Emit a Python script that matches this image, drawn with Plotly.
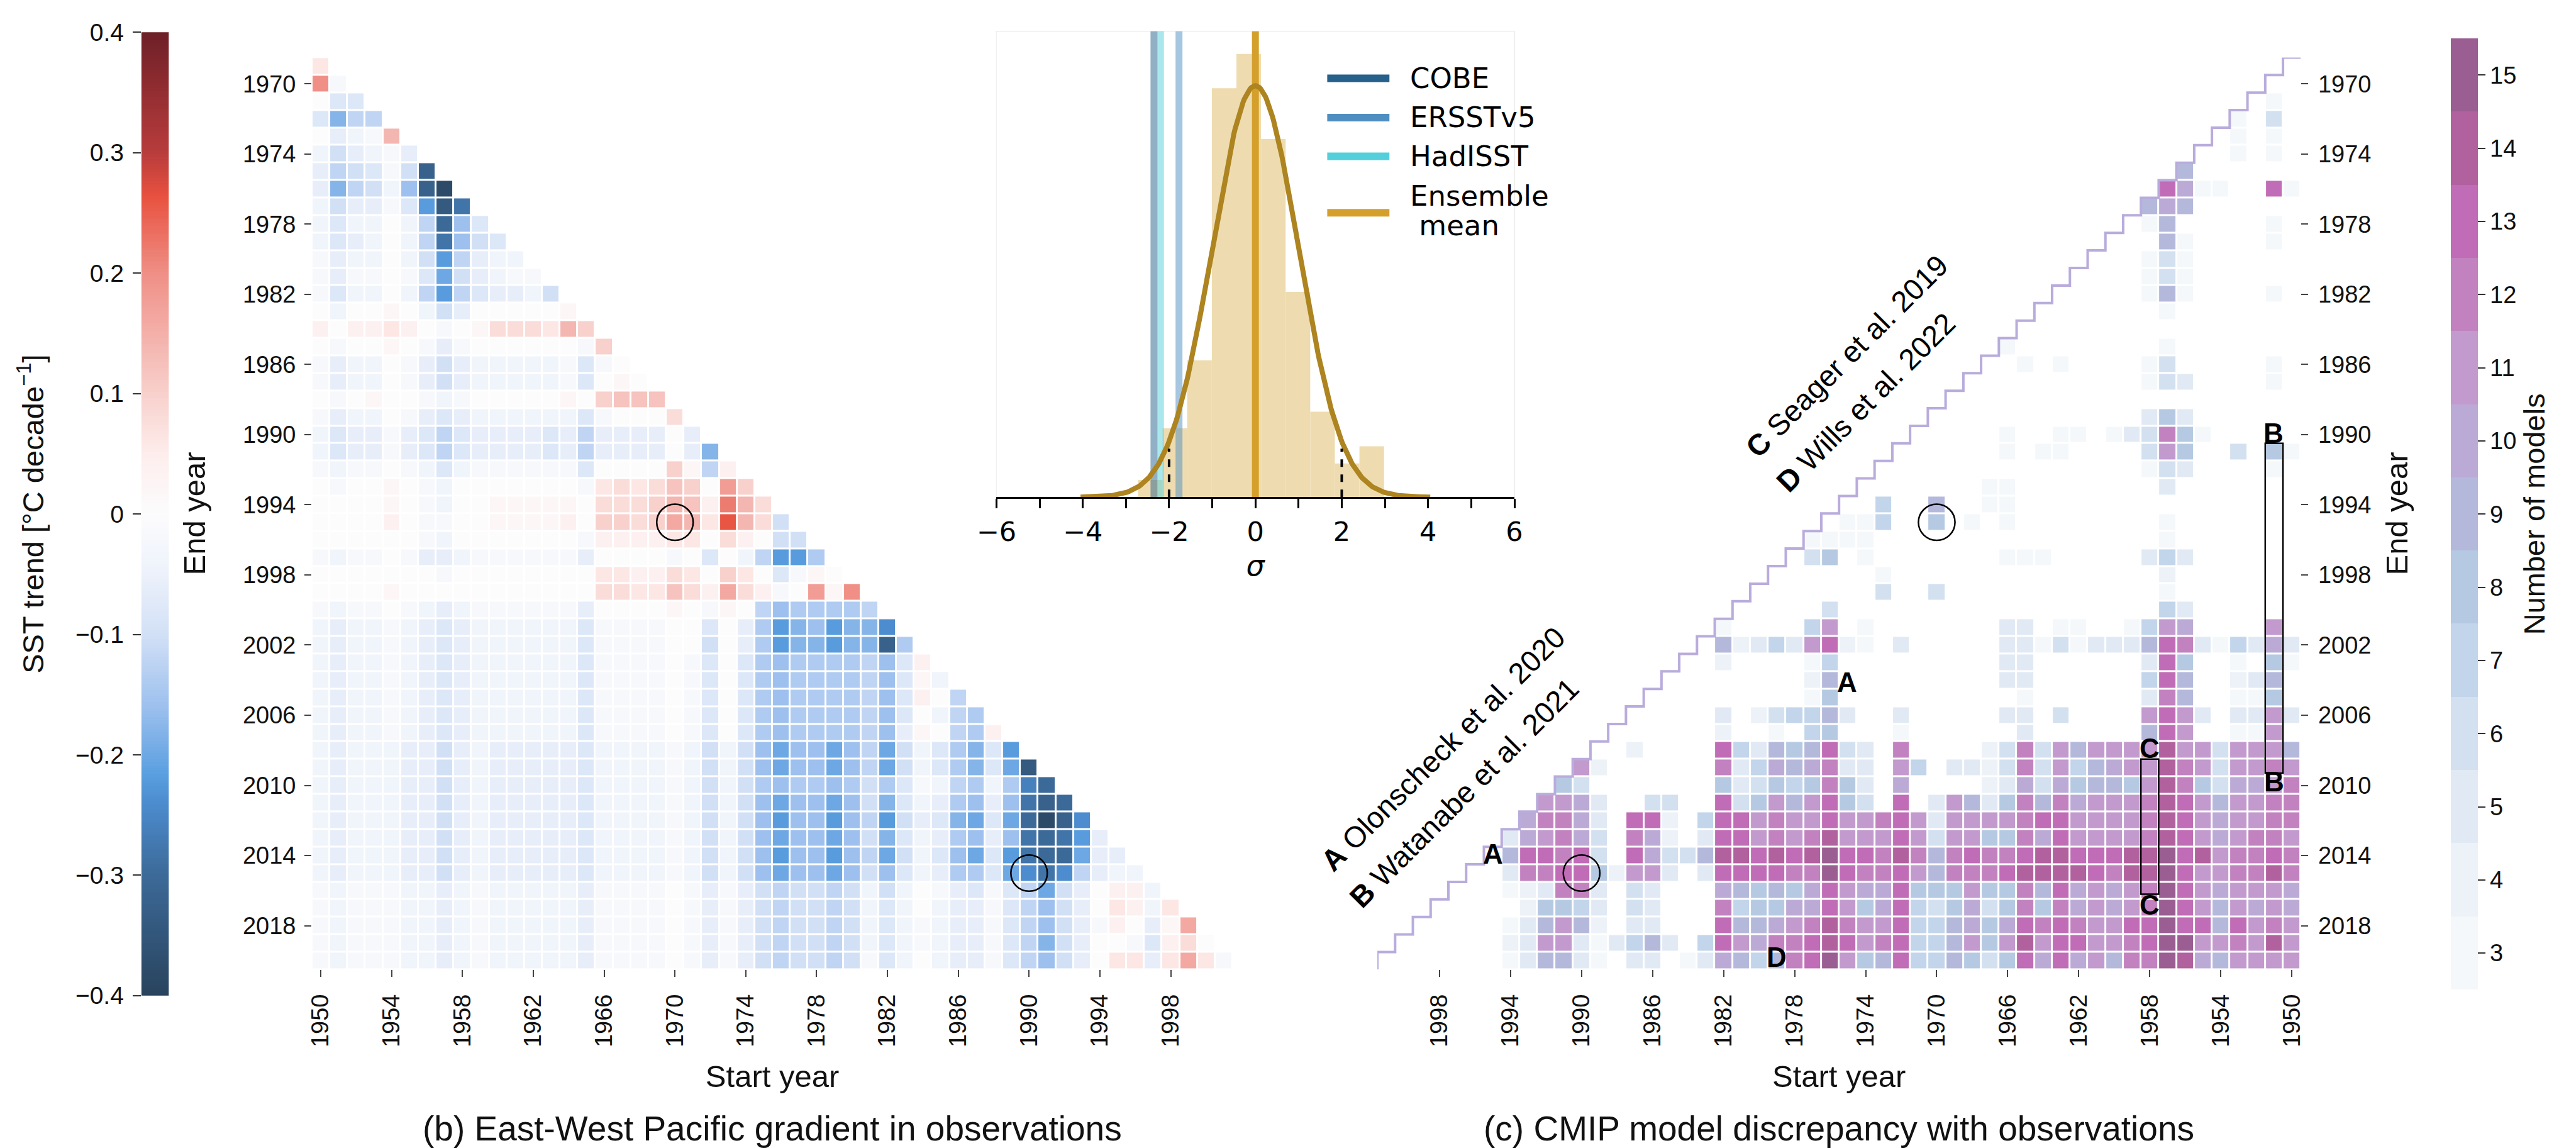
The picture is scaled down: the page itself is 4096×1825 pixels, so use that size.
import numpy as np
import plotly.graph_objects as go

# ---------------------------------------------------------------- axes
START_YEARS = list(range(1950, 2002))
END_YEARS = list(range(1969, 2021))
MIN_SPAN = 19  # shortest trend window (end - start)

# (b) observed East-West Pacific SST-gradient trend [degC / decade].
# One string per end year (1969..2020), one character per start year from 1950.
# '0' = 0, lowercase k-th letter = +0.02*k, uppercase k-th letter = -0.02*k
OBS_TREND_ROWS = [
    "c",
    "jA",
    "0DD",
    "DIFF",
    "0CBAg",
    "BECBAC",
    "CFEDAEP",
    "CIFEBHPS",
    "BECCADKQN",
    "BDBB0BFOHD",
    "BDCB0BFNHED",
    "ACBB0BEKFCBB",
    "ACAA0ADJECBAA",
    "ADBB0BFKFDCCBE",
    "0B00a0BEC00000a",
    "b0bbcb0A0adddcge",
    "0A00a0ACA000000Ae",
    "ACBB0ACECBBBBBADA0",
    "ACBB0ACECBBBBBAD0a0",
    "0A0a00ABA00000a0efff",
    "ACBB0ACDCBBBBBBDA000d",
    "BDCCACDFDCCCCDCFCCCC0C",
    "BDCCACDFDCCCCDCFCCCC0CI",
    "ABAA0ABDBAAAAAAD0000eaFb",
    "0A00a0AB0000000Acdcdfe0ie",
    "0000a0AB00aaaaa0dddegfbkgd",
    "0000b0AA00aaaab0eedehgcmgdE",
    "000000AB0000000Abbbbcc0db0EE",
    "ABAA0ACCBAAAAAAC0000A0D0BFKKG",
    "0000000A00000000ccbbdc0ec0DAa0",
    "0000a00000000000ddccfdbhdbA0iaj",
    "ABAA0ABCBAAAAAAC0000a0Aa0FHGGGGF",
    "BCBBABCDCBBBBBBDAAAA00D0CGKIHKIIL",
    "BCBBABCDCBBBBBBDAAAA00E0CGKIIKIIPG",
    "BCBBABCDCBBBBBBDAAAA0AD0DGHGGGGFHDb",
    "BCBBABCDCBBBBBBDAAAA0AD0DGHGGGGFHDaB",
    "BCBBABCDCBBBBBBDAAAA0AD0DGHGGGGFHDb0F",
    "BCBBABCDCBBBBBBDAAAA0AD0DGHGGGGFHD0BFG",
    "BCBBABCDCBBBBBBDAAAA0AD0DGHGGGGFHCa0FGb",
    "BCBBBCCECBCCCCCDBBBBABEBEHJHHJHFJEBDGIDK",
    "BCBBBCCECBCCCCCDBBBBABEBEHJHHJHFJEBDGIDJQ",
    "BCBBBCCECBCCCCCDBBBBABEBEGHGGHGEGDABFGBGMO",
    "BCBBBCCECBCCCCCDBBBBABEBEHJHHJHEIDBCGHCHNPO",
    "BCBBBCCECBCCCCCDBBBBABEBEHKHHKHFKECDIJDJOSPL",
    "BCBBBCCECBCCCCCDBBBBABEBEHJHHJHEIDBCGHCHNONKC",
    "BCBBBCCECBCCCCCDBBBBABEBEHKHHKHFJEBDHJDKNOOJCC",
    "BCBBBCCECBCCCCCDBBBBABEBEHJHHJHEHDBCGGDJLNLFCBB",
    "ABAAABBCBABBBBBCAAAA0ACACEFEEFEBEB0ACDADFJEC0bbB",
    "ABAAABBCBABBBBBCAAAA0ACACEFEEFEBDB0BCCADFHEC0cbBc",
    "ABAAABBCBABBBBBCAAAA0ACACEFEEFEBDBABCCADFHECAb0Cah",
    "ABAAABBCBABBBBBCAAAA0ACACEFEEFEBDBABCCADFIEC00ADbd0",
    "ABAAABBCBABBBBBCAAAA0ACACEFEEFEADB0BCCADFHEC0ccCchcA",
]

# (c) number of CMIP models whose trend is inconsistent with observations.
# Same layout as above; '.' = none, '3'..'9' as is, 'a'..'f' = 10..15
MODEL_COUNT_ROWS = [
    ".",
    "..",
    ".3.",
    ".6.3",
    ".3.3.",
    ".3.3..",
    "......9",
    "3d..33ad",
    "......9a9",
    ".3.....93.",
    ".3....39...",
    "......363...",
    "......363....",
    ".3....393.....",
    ".......3.......",
    "................",
    ".......3........3",
    ".3.....63....3.3..",
    ".3....563..........",
    "....................",
    "......585............",
    ".....38c653.33..3.....",
    "38.6..8b6....33.3......",
    ".3....563...............",
    ".......5........33.......",
    "................33..9..7..",
    ".......3........3.3.8..733.",
    ".......3................3333",
    "......575.....333.......3.86.",
    ".......4...............3......",
    ".......3............6..6.......",
    "......57..................6.....",
    ".b....ab73..33.55.......3.b7....3",
    "5a5735cd955536355.....5.34db57549.",
    "38.3..8d5......55.........73....4..",
    ".954..9d7......55.........94........",
    ".833..9c5......3..........83.........",
    "5b55.5bdb....6.55.....5..597764.5.....",
    ".b33..bd9......5......3...87.3..4......",
    "9bbb6bbebbbb9b6c64....c.56d98957d....4..",
    "bcbb6bcebba97b6c6455.7b.55ca9a75c......4b",
    "cbaa68ceb8998a6a54....a.58c878658.......68",
    "ccbb9bdecbbbac9c859b5.d.68db9b86d..66..5abb",
    "ccbbabdecbbbbddcbbbb5bdcbbdbbcbdd7.4dd.5acca",
    "bccbabdecbbbbdac88bb6bdbbbecbcbdd5.4ac.6acba5",
    "cdccbedfeedddeedccdc9cecddfededee966ad.6dcdd9.",
    "ceccbbdfeecdeeeedccc9bdccdfccdddd5.5bb48ddcc5..",
    "abbbabdfcbabad9c88b888daabda8989a...56.5cc543...",
    "abab9bdfcbabac8c86a867da8bdaa887c...56.57884.....",
    "bcbd9ddfddbbcdcda8a977dbbcecba99d...55.49b953.....",
    "bebcbbffdcbbddbeb8b977dcbdedccabd7.597535bb54......",
    "bbbb9aefcc9badad868977d98bfdc979a53.55.359953.......",
]

# inset: trend of the observations relative to the model spread
HIST_LEFT_EDGE = -2.72
HIST_BIN_WIDTH = 0.57
HIST_DENSITY = [0.0166, 0.0668, 0.1327, 0.3966, 0.4298, 0.3473, 0.199, 0.0829, 0.0327, 0.0493]
OBS_NAMES = ["COBE", "ERSSTv5", "HadISST"]
OBS_SIGMA = [-2.35, -1.77, -2.20]
ENSEMBLE_MEAN_SIGMA = 0.0
FIT_MEAN, FIT_STD = 0.0, 1.0
SIGNIF_SIGMA = [-2.0, 2.0]
SIGMA_TICKS = [-6, -4, -2, 0, 2, 4, 6]

CIRCLED_CELLS = [(1970, 1995), (1990, 2015)]  # (start, end)

# ---------------------------------------------------------------- styling
SANS = "Liberation Sans, Arial, Helvetica, sans-serif"
MPL = "DejaVu Sans, sans-serif"
W, H = 4096, 1825

TREND_SCALE = [
    [0.0, "#29435d"], [0.125, "#3c6a98"], [0.2, "#4c8ccf"], [0.23, "#5a9fe0"],
    [0.3, "#9dc0ee"], [0.375, "#d2e0f6"], [0.44, "#edf2fb"], [0.5, "#fcfcfd"],
    [0.56, "#fdeeed"], [0.625, "#f8d0cc"], [0.75, "#ef8f86"], [0.83, "#e8513f"],
    [0.875, "#b83c3c"], [1.0, "#6e1f27"],
]
COUNT_COLORS = ["#f4f8fb", "#ecf2f8", "#e1eaf4", "#d3e0ef", "#c2d5ea", "#b5cae2",
                "#b4b9dc", "#bcaad6", "#c29ace", "#c282c0", "#c06cb6", "#b2619f", "#9a5e92"]
COUNT_MIN, COUNT_MAX = 3, 15
OBS_COLORS = {"COBE": "37,97,139", "ERSSTv5": "79,142,192", "HadISST": "83,207,220"}
ENSEMBLE_COLOR = "#d4a02b"
FIT_COLOR = "#ad8420"


def px_x(v):
    return v / W


def px_y(v):
    return 1 - v / H


def trend_value(ch):
    if ch == "0":
        return 0.0
    if ch.islower():
        return 0.02 * (ord(ch) - 96)
    return -0.02 * (ord(ch) - 64)


def count_value(ch):
    if ch == ".":
        return None
    if ch.isdigit():
        return int(ch)
    return 10 + ord(ch) - ord("a")


def build_grid(rows, decode):
    grid = []
    for end, row in zip(END_YEARS, rows):
        n_valid = end - MIN_SPAN - START_YEARS[0] + 1
        vals = [decode(c) for c in row[:n_valid]]
        vals += [None] * (len(START_YEARS) - len(vals))
        grid.append(vals)
    return grid


def minus(v, fmt):
    s = fmt.format(abs(v))
    return "\u2212" + s if v < 0 else s


z_obs = build_grid(OBS_TREND_ROWS, trend_value)
z_cnt = build_grid(MODEL_COUNT_ROWS, count_value)

n_bands = COUNT_MAX - COUNT_MIN + 1
count_scale = []
for k, col in enumerate(COUNT_COLORS):
    count_scale.append([k / n_bands, col])
    count_scale.append([(k + 1) / n_bands, col])

fig = go.Figure()

# (b) observed trends
fig.add_trace(go.Heatmap(
    z=z_obs, x=START_YEARS, y=END_YEARS, colorscale=TREND_SCALE, zmin=-0.4, zmax=0.4,
    xgap=3, ygap=3, showscale=False, xaxis="x", yaxis="y", hoverongaps=False))

# (c) model discrepancy counts
fig.add_trace(go.Heatmap(
    z=z_cnt, x=START_YEARS, y=END_YEARS, colorscale=count_scale,
    zmin=COUNT_MIN - 0.5, zmax=COUNT_MAX + 0.5, xgap=3, ygap=3, xaxis="x2", yaxis="y2",
    hoverongaps=False,
    colorbar=dict(
        x=px_x(3899), xanchor="left", y=px_y(815.5), yanchor="middle",
        len=1568.5 / H, lenmode="fraction", thickness=43, thicknessmode="pixels",
        outlinewidth=0, tickvals=list(range(COUNT_MIN, COUNT_MAX + 1)),
        ticks="outside", ticklen=12, tickwidth=2, tickcolor="#333",
        tickfont=dict(family=SANS, size=38, color="#111"),
        title=dict(text="Number of models", side="right",
                   font=dict(family=SANS, size=47, color="#111")),
    )))

# staircase marking the shortest allowed trend window in (c)
stair_x = [START_YEARS[0] - 0.5]
stair_y = [END_YEARS[0] - 0.5]
for s in START_YEARS:
    stair_x += [s + 0.5, s + 0.5]
    stair_y += [s + MIN_SPAN - 0.5, s + MIN_SPAN + 0.5]
fig.add_trace(go.Scatter(x=stair_x, y=stair_y, mode="lines", xaxis="x2", yaxis="y2",
                         line=dict(color="#b9acdc", width=4), hoverinfo="skip",
                         cliponaxis=False))

# left colour bar drawn as its own small axis so labels sit on the left
cb_levels = np.linspace(-0.4, 0.4, 321)
fig.add_trace(go.Heatmap(z=[[v] for v in cb_levels], x=[0.5], y=cb_levels,
                         colorscale=TREND_SCALE, zmin=-0.4, zmax=0.4, showscale=False,
                         xaxis="x4", yaxis="y4", hoverinfo="skip"))

# inset: histogram + fitted normal
bin_centers = [HIST_LEFT_EDGE + (i + 0.5) * HIST_BIN_WIDTH for i in range(len(HIST_DENSITY))]
fig.add_trace(go.Bar(x=bin_centers, y=HIST_DENSITY, width=HIST_BIN_WIDTH,
                     marker=dict(color="#eedcb0", line=dict(width=0)),
                     xaxis="x3", yaxis="y3", hoverinfo="skip"))
INSET_YMAX = 0.4517
for name, sig in zip(OBS_NAMES, OBS_SIGMA):
    fig.add_trace(go.Scatter(x=[sig, sig], y=[0, INSET_YMAX], mode="lines", name=name,
                             line=dict(color=f"rgba({OBS_COLORS[name]},0.5)", width=11),
                             xaxis="x3", yaxis="y3", hoverinfo="skip"))
fig.add_trace(go.Scatter(x=[ENSEMBLE_MEAN_SIGMA] * 2, y=[0, INSET_YMAX], mode="lines",
                         name="Ensemble mean", line=dict(color=ENSEMBLE_COLOR, width=11),
                         xaxis="x3", yaxis="y3", hoverinfo="skip"))
xs_fit = np.linspace(-4.05, 4.05, 300)
ys_fit = np.exp(-0.5 * ((xs_fit - FIT_MEAN) / FIT_STD) ** 2) / (FIT_STD * np.sqrt(2 * np.pi))
fig.add_trace(go.Scatter(x=xs_fit, y=ys_fit, mode="lines", line=dict(color=FIT_COLOR, width=8),
                         xaxis="x3", yaxis="y3", hoverinfo="skip"))
for sig in SIGNIF_SIGMA:
    fig.add_trace(go.Scatter(x=[sig, sig], y=[0, 0.047], mode="lines",
                             line=dict(color="black", width=4, dash="dash"),
                             xaxis="x3", yaxis="y3", hoverinfo="skip"))

# ---------------------------------------------------------------- axes layout
tick_common = dict(ticks="outside", ticklen=11, tickwidth=2, tickcolor="#444",
                   showgrid=False, zeroline=False, showline=False,
                   tickfont=dict(family=SANS, size=38, color="#111"))
title_font = dict(family=SANS, size=49, color="#111")
y_dom = [px_y(1557.0), px_y(72.1)]
cb_ticks = [round(-0.4 + 0.1 * i, 1) for i in range(9)]

fig.update_layout(
    width=W, height=H, margin=dict(l=0, r=0, t=0, b=0),
    paper_bgcolor="white", plot_bgcolor="white", showlegend=False,
    font=dict(family=SANS, color="#111"),
    xaxis=dict(domain=[px_x(469.3), px_x(1950.0)], range=[1949.5, 2001.5], anchor="y",
               tickvals=list(range(1950, 2000, 4)), tickangle=-90, ticklabelstandoff=12,
               title=dict(text="Start year", font=title_font, standoff=29), **tick_common),
    yaxis=dict(domain=y_dom, range=[2020.5, 1968.5], anchor="x",
               tickvals=list(range(1970, 2020, 4)), ticklabelstandoff=6,
               title=dict(text="End year", font=title_font, standoff=43), **tick_common),
    xaxis2=dict(domain=[px_x(2182.6), px_x(3667.5)], range=[2001.5, 1949.5], anchor="y2",
                tickvals=list(range(1998, 1949, -4)), tickangle=-90, ticklabelstandoff=12,
                title=dict(text="Start year", font=title_font, standoff=29), **tick_common),
    yaxis2=dict(domain=y_dom, range=[2020.5, 1968.5], anchor="x2", side="right",
                tickvals=list(range(1970, 2020, 4)), ticklabelstandoff=8,
                title=dict(text="End year", font=title_font, standoff=24), **tick_common),
    xaxis3=dict(domain=[px_x(1570.0), px_x(2403.0)], range=[-6, 6], anchor="y3",
                tickvals=SIGMA_TICKS, ticktext=[minus(v, "{:d}") for v in SIGMA_TICKS],
                ticks="outside", ticklen=15, tickwidth=3, tickcolor="black",
                minor=dict(tickvals=[v + 1 for v in SIGMA_TICKS[:-1]], ticks="outside",
                           ticklen=15, tickwidth=3, tickcolor="black", showgrid=False),
                showline=True, linecolor="black", linewidth=3, showgrid=False, zeroline=False,
                tickfont=dict(family=MPL, size=43, color="black"),
                title=dict(text="<i>σ</i>", font=dict(family=MPL, size=46, color="black"),
                           standoff=14)),
    yaxis3=dict(domain=[px_y(787.9), px_y(29.5)], range=[0, INSET_YMAX], anchor="x3",
                visible=False, showgrid=False, zeroline=False),
    xaxis4=dict(domain=[px_x(194.9), px_x(239.1)], range=[0, 1], anchor="y4", visible=False),
    yaxis4=dict(domain=[px_y(1599.5), px_y(31.1)], range=[-0.4, 0.4], anchor="x4",
                side="left", tickvals=cb_ticks,
                ticktext=["0" if v == 0 else minus(v, "{:.1f}") for v in cb_ticks],
                ticks="outside", ticklen=13, tickwidth=2, tickcolor="#333", ticklabelstandoff=6,
                showgrid=False, zeroline=False, showline=False,
                tickfont=dict(family=SANS, size=39, color="#111"),
                title=dict(text="SST trend [°C decade<sup>\u22121</sup>]",
                           font=dict(family=SANS, size=47, color="#111"), standoff=35)),
)

shapes = []
# inset frame
shapes.append(dict(type="rect", xref="x3 domain", yref="y3 domain", x0=0, x1=1, y0=0, y1=1,
                   line=dict(color="#cfcfcf", width=1), layer="below"))
# circled cells in both panels
for xr, yr in (("x", "y"), ("x2", "y2")):
    for s, e in CIRCLED_CELLS:
        shapes.append(dict(type="circle", xref=xr, yref=yr, x0=s - 1.03, x1=s + 1.03,
                           y0=e - 1.03, y1=e + 1.03, line=dict(color="black", width=2.5)))
# literature windows in (c)
shapes.append(dict(type="rect", xref="x2", yref="y2", x0=1950.5, x1=1951.5, y0=1990.5,
                   y1=2009.3, line=dict(color="black", width=2.5)))
shapes.append(dict(type="rect", xref="x2", yref="y2", x0=1957.5, x1=1958.5, y0=2008.5,
                   y1=2016.2, line=dict(color="black", width=2.5)))
# legend samples for the inset
legend_rows = [(f"rgb({OBS_COLORS['COBE']})", 106),
               (f"rgb({OBS_COLORS['ERSSTv5']})", 170),
               (f"rgb({OBS_COLORS['HadISST']})", 233),
               (ENSEMBLE_COLOR, 325)]
for col, ypx in legend_rows:
    shapes.append(dict(type="line", xref="paper", yref="paper", x0=px_x(2102), x1=px_x(2202),
                       y0=px_y(ypx), y1=px_y(ypx), line=dict(color=col, width=12)))
fig.update_layout(shapes=shapes)

ann = []
leg_font = dict(family=MPL, size=45, color="black")
for text, ypx in (("COBE", 106), ("ERSSTv5", 170), ("HadISST", 233),
                  ("Ensemble", 298), ("\u00a0mean", 346)):
    ann.append(dict(text=text, xref="paper", yref="paper", x=px_x(2233), y=px_y(ypx),
                    xanchor="left", yanchor="middle", showarrow=False, font=leg_font))

letter_font = dict(family=SANS, size=44, color="black")
for txt, sx, ey in (("A", 1975.05, 2004.1), ("A", 1995.0, 2013.9), ("D", 1979.0, 2019.8),
                    ("B", 1951.05, 1989.9), ("B", 1951.0, 2009.8),
                    ("C", 1958.0, 2007.9), ("C", 1958.0, 2016.8)):
    ann.append(dict(text=f"<b>{txt}</b>", xref="x2", yref="y2", x=sx, y=ey, showarrow=False,
                    xanchor="center", yanchor="middle", font=letter_font))

ref_font = dict(family=SANS, size=47, color="black")
for txt, xpx, ypx in (("<b>A</b> Olonscheck et al. 2020", 2288, 1198),
                      ("<b>B</b> Watanabe et al. 2021", 2322, 1269.5),
                      ("<b>C</b> Seager et al. 2019", 2937, 558.6),
                      ("<b>D</b> Wills et al. 2022", 2968, 633)):
    ann.append(dict(text=txt, xref="paper", yref="paper", x=px_x(xpx), y=px_y(ypx),
                    textangle=-45, showarrow=False, xanchor="center", yanchor="middle",
                    font=ref_font))

cap_font = dict(family=SANS, size=55, color="#111")
ann.append(dict(text="(b) East-West Pacific gradient in observations", xref="paper",
                yref="paper", x=px_x(1210), y=px_y(1816), showarrow=False,
                xanchor="center", yanchor="middle", font=cap_font))
ann.append(dict(text="(c) CMIP model discrepancy with observations", xref="paper",
                yref="paper", x=px_x(2925), y=px_y(1816), showarrow=False,
                xanchor="center", yanchor="middle", font=cap_font))
fig.update_layout(annotations=ann)

fig.write_html("out.html")
